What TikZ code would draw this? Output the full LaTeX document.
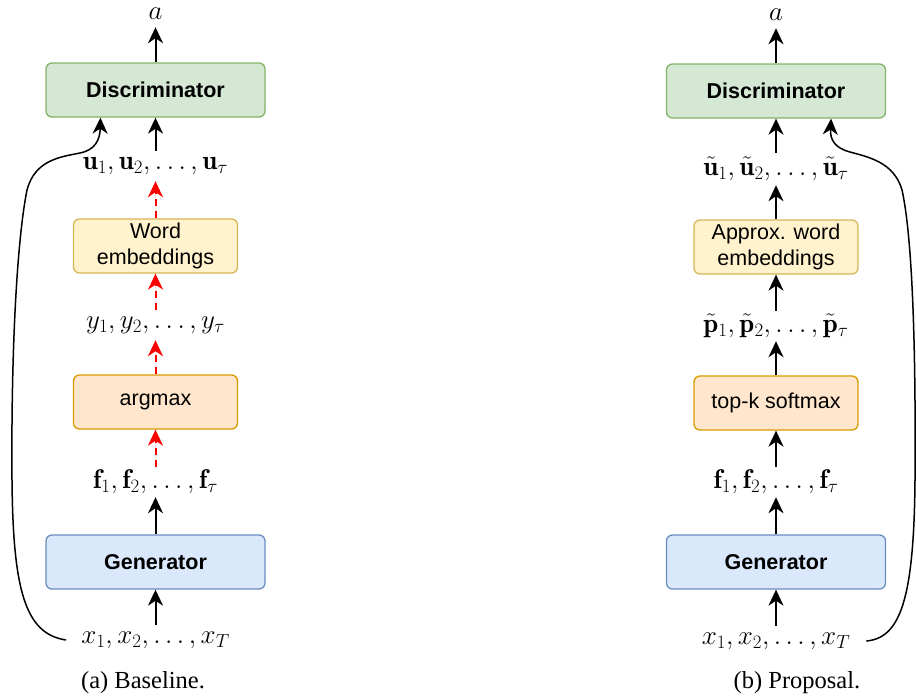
\RequirePackage{fix-cm}
\documentclass[tikz,border=0pt]{standalone}
\usepackage{amsmath}
\usepackage{fontspec}
\newfontfamily\boxfont{Liberation Sans}
\newfontfamily\capfont{Liberation Serif}
\usetikzlibrary{arrows.meta,calc}

\definecolor{discfill}{HTML}{D5E8D4}
\definecolor{discdraw}{HTML}{82B366}
\definecolor{embfill}{HTML}{FFF2CC}
\definecolor{embdraw}{HTML}{D6B656}
\definecolor{argfill}{HTML}{FFE6CC}
\definecolor{argdraw}{HTML}{D79B00}
\definecolor{genfill}{HTML}{DAE8FC}
\definecolor{gendraw}{HTML}{6C8EBF}
\definecolor{flowred}{HTML}{FF0000}

\tikzset{
  block/.style={rounded corners=6pt, line width=1.3pt, align=center, inner sep=0pt,
    font=\boxfont\fontsize{21.5}{26}\selectfont},
  wideblock/.style={block, minimum width=219pt, minimum height=54pt},
  narrowblock/.style={block, minimum width=164pt, minimum height=54pt},
  disc/.style={wideblock, fill=discfill, draw=discdraw, font=\boxfont\bfseries\fontsize{21.5}{26}\selectfont},
  gen/.style={wideblock, fill=genfill, draw=gendraw, font=\boxfont\bfseries\fontsize{21.5}{26}\selectfont},
  emb/.style={narrowblock, fill=embfill, draw=embdraw},
  sel/.style={narrowblock, fill=argfill, draw=argdraw},
  lbl/.style={inner sep=0pt, minimum height=30pt, font=\fontsize{27}{31}\selectfont},
  caption/.style={inner sep=0pt, font=\capfont\fontsize{24.5}{29}\selectfont},
  tip/.style={-{Stealth[length=16pt,width=15pt,inset=5pt]}},
  flow/.style={tip, line width=2pt},
  redflow/.style={tip, line width=2pt, draw=flowred, fill=flowred, dash pattern=on 7pt off 5pt},
  feedback/.style={tip, line width=1.5pt}
}

\begin{document}
\begin{tikzpicture}[x=1pt, y=-1pt]
\useasboundingbox (0,0) rectangle (916,699);

% ---------- (a) Baseline ----------
\node[disc] (dL) at (155.5,90) {Discriminator};
\node[lbl, minimum height=26pt] (aL) at (155.5,14) {$a$};
\node[lbl] (uL) at (155.5,166) {$\mathbf{u}_1, \mathbf{u}_2, \ldots, \mathbf{u}_\tau$};
\node[emb] (weL) at (155.5,246) {Word\\embeddings};
\node[lbl] (yL) at (155.5,325) {$y_1, y_2, \ldots, y_\tau$};
\node[sel] (amL) at (155.5,402) {argmax};
\node[lbl] (fL) at (155.5,482) {$\mathbf{f}_1, \mathbf{f}_2, \ldots, \mathbf{f}_\tau$};
\node[gen] (gL) at (155.5,562) {Generator};
\node[lbl, inner xsep=15pt] (xL) at (155.5,640) {$x_1, x_2, \ldots, x_T$};
\node[caption] (capL) at (143,683) {(a) Baseline.};

\draw[flow] (dL.north) -- (aL.south);
\draw[flow] (uL.north) -- (dL.south);
\draw[redflow] (weL.north) -- (uL.south);
\draw[redflow] (yL.north) -- (weL.south);
\draw[redflow] (amL.north) -- (yL.south);
\draw[redflow] (fL.north) -- (amL.south);
\draw[flow] (gL.north) -- (fL.south);
\draw[flow] (xL.north) -- (gL.south);

\coordinate (tipL) at ($(dL.south west)!0.25!(dL.south east)$);
\draw[feedback] (xL.west) .. controls (25,634) and (13,590) .. (12,480)
  .. controls (11,350) and (17,240) .. (27,190)
  .. controls (35,160) and (60,157) .. (80,153)
  .. controls (95,150) and (100,140) .. (tipL);

% ---------- (b) Proposal ----------
\node[disc] (dR) at (776,91) {Discriminator};
\node[lbl, minimum height=26pt] (aR) at (776,15) {$a$};
\node[lbl, minimum height=32pt] (uR) at (776,169) {$\tilde{\mathbf{u}}_1, \tilde{\mathbf{u}}_2, \ldots, \tilde{\mathbf{u}}_\tau$};
\node[emb] (weR) at (776,247) {Approx. word\\embeddings};
\node[lbl] (pR) at (776,326) {$\tilde{\mathbf{p}}_1, \tilde{\mathbf{p}}_2, \ldots, \tilde{\mathbf{p}}_\tau$};
\node[sel] (tkR) at (776,403) {top-k softmax};
\node[lbl] (fR) at (776,482) {$\mathbf{f}_1, \mathbf{f}_2, \ldots, \mathbf{f}_\tau$};
\node[gen] (gR) at (776,562) {Generator};
\node[lbl, inner xsep=16pt] (xR) at (776,641) {$x_1, x_2, \ldots, x_T$};
\node[caption] (capR) at (797,683) {(b) Proposal.};

\draw[flow] (dR.north) -- (aR.south);
\draw[flow] (uR.north) -- (dR.south);
\draw[flow] (weR.north) -- (uR.south);
\draw[flow] (pR.north) -- (weR.south);
\draw[flow] (tkR.north) -- (pR.south);
\draw[flow] (fR.north) -- (tkR.south);
\draw[flow] (gR.north) -- (fR.south);
\draw[flow] (xR.north) -- (gR.south);

\coordinate (tipR) at ($(dR.south west)!0.75!(dR.south east)$);
\draw[feedback] (xR.east) .. controls (900,638) and (914,600) .. (915,480)
  .. controls (916,340) and (912,235) .. (902,190)
  .. controls (894,162) and (868,157) .. (850,152)
  .. controls (835,148) and (830,140) .. (tipR);
\end{tikzpicture}
\end{document}
